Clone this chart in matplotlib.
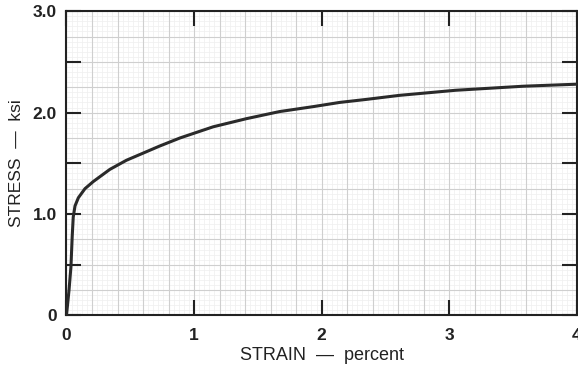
import matplotlib
matplotlib.use("Agg")
import matplotlib.pyplot as plt
import numpy as np

# Data
strain = [0.0, 0.02, 0.035, 0.045, 0.053, 0.067, 0.093, 0.145, 0.21, 0.34,
          0.47, 0.60, 0.73, 0.89, 1.15, 1.41, 1.67, 1.94, 2.14, 2.35, 2.61,
          3.05, 3.58, 4.0]
stress = [0.0, 0.25, 0.48, 0.78, 0.97, 1.08, 1.16, 1.25, 1.32, 1.44,
          1.53, 1.60, 1.67, 1.75, 1.86, 1.94, 2.01, 2.06, 2.10, 2.13, 2.17,
          2.22, 2.26, 2.28]

x_ticks = [0, 1, 2, 3, 4]
x_ticklabels = ["0", "1", "2", "3", "4"]
y_ticks = [0, 1, 2, 3]
y_ticklabels = ["0", "1.0", "2.0", "3.0"]

plt.rcParams['font.family'] = ['Liberation Sans', 'DejaVu Sans']

fig = plt.figure(figsize=(5.78, 3.72), dpi=100)
ax = fig.add_axes([0.115, 0.152, 0.883, 0.818])
ax.set_xlim(0, 4)
ax.set_ylim(0, 3)

# graph paper grid
for xv in np.arange(0, 4.0001, 0.04):
    ax.axvline(xv, color='#efefef', lw=0.5, zorder=0)
for yv in np.arange(0, 3.0001, 0.05):
    ax.axhline(yv, color='#efefef', lw=0.5, zorder=0)
for xv in np.arange(0, 4.0001, 0.2):
    ax.axvline(xv, color='#cfcfcf', lw=0.8, zorder=0)
for yv in np.arange(0, 3.0001, 0.25):
    ax.axhline(yv, color='#cfcfcf', lw=0.8, zorder=0)

ax.plot(strain, stress, color='#2a2a2a', lw=2.2, solid_capstyle='round',
        solid_joinstyle='round', zorder=3)

for s in ax.spines.values():
    s.set_linewidth(1.5)
    s.set_color('#222222')

ax.set_xticks(x_ticks)
ax.set_xticklabels(x_ticklabels, fontsize=12.5, fontweight='bold', color='#222222')
ax.set_yticks(y_ticks)
ax.set_yticklabels(y_ticklabels, fontsize=12.5, fontweight='bold', color='#222222')
ax.set_yticks(np.arange(0, 3.0001, 0.5), minor=True)
ax.tick_params(which='both', direction='in', top=True, right=True, width=1.5,
               color='#222222')
ax.tick_params(axis='x', which='major', length=11, pad=9)
ax.tick_params(axis='y', which='major', length=11, pad=7)
ax.tick_params(axis='y', which='minor', length=11)

ax.set_xlabel("STRAIN  —  percent", fontsize=13, color='#222222', labelpad=3)
ax.set_ylabel("STRESS  —  ksi", fontsize=12.5, color='#222222', labelpad=6)

fig.savefig("out.png", dpi=100, facecolor='white')
